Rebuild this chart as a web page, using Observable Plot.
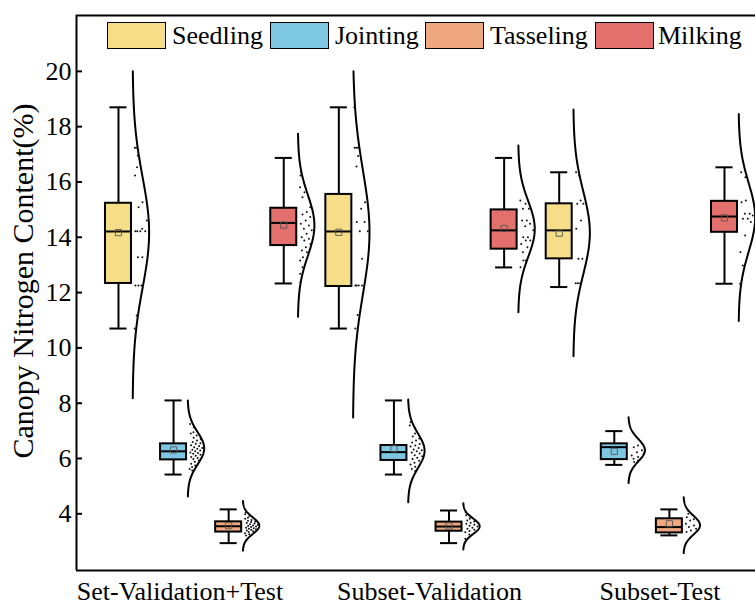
<!DOCTYPE html>
<html>
<head>
<meta charset="utf-8">
<script src="https://cdn.jsdelivr.net/npm/d3@7"></script>
<script src="https://cdn.jsdelivr.net/npm/@observablehq/plot@0.6"></script>
<style>
  body { margin: 0; background: #fff; }
  #wrap { position: relative; width: 755px; height: 607px; font-family: "Liberation Serif", "Times New Roman", serif; }
  #legend { position: absolute; left: 0; top: 0; width: 755px; height: 60px; pointer-events: none; }
  .sw { position: absolute; top: 22px; width: 57px; height: 25px; border: 1.5px solid #000; }
  .lt { position: absolute; top: 20px; font-size: 26px; line-height: 32px; color: #000; white-space: nowrap; }
</style>
</head>
<body>
<div id="wrap">
  <div id="chart"></div>
  <div id="legend"></div>
</div>
<script>
// ---------- data ----------
const groups = ["Set-Validation+Test", "Subset-Validation", "Subset-Test"];
const stages = ["Seedling", "Jointing", "Tasseling", "Milking"];
const stageColors = ["#F6DE88", "#7DC7E3", "#EEA77F", "#E3706C"];

// rows: groups, columns: stages
const whiskerLow  = [[10.70, 5.42, 2.94, 12.33], [10.70, 5.42, 2.94, 12.91], [12.20, 5.77, 3.22, 12.32]];
const q1          = [[12.33, 5.95, 3.34, 13.70], [12.22, 5.93, 3.37, 13.57], [13.22, 5.96, 3.31, 14.18]];
const median      = [[14.21, 6.26, 3.55, 14.52], [14.21, 6.23, 3.54, 14.25], [14.25, 6.41, 3.52, 14.75]];
const q3          = [[15.23, 6.53, 3.71, 15.05], [15.55, 6.47, 3.70, 14.99], [15.21, 6.53, 3.82, 15.30]];
const whiskerHigh = [[18.70, 8.10, 4.16, 16.87], [18.70, 8.10, 4.12, 16.87], [16.35, 6.99, 4.16, 16.53]];
const means       = [[14.17, 6.31, 3.57, 14.44], [14.18, 6.35, 3.56, 14.32], [14.15, 6.26, 3.64, 14.70]];

// normal distribution curve fitted to each series (mean, sd) and the range it is drawn over
const fitMean = [[14.17, 6.37, 3.57, 14.43], [14.18, 6.28, 3.55, 14.30], [14.16, 6.30, 3.59, 14.72]];
const fitSD   = [[2.00, 0.58, 0.30, 1.10], [2.23, 0.62, 0.28, 1.005], [1.49, 0.40, 0.34, 1.25]];
const curveLo = [[8.18, 4.63, 2.67, 11.13], [7.48, 4.42, 2.71, 11.29], [9.70, 5.11, 2.58, 10.97]];
const curveHi = [[20.0, 8.10, 4.46, 17.74], [20.0, 8.13, 4.38, 17.32], [18.62, 7.49, 4.60, 18.46]];

// individual data points
const pointValues = [
  [
    [18.70, 17.24, 17.24, 16.96, 16.53, 16.23, 15.27, 15.09, 14.61, 14.31, 14.22, 14.22, 14.22, 14.22, 13.28, 13.28, 12.26, 12.26, 12.26, 11.17, 10.70],
    [7.25, 7.13, 6.95, 6.90, 6.83, 6.75, 6.70, 6.65, 6.60, 6.55, 6.53, 6.48, 6.45, 6.41, 6.38, 6.35, 6.32, 6.29, 6.26, 6.22, 6.20, 6.17, 6.14, 6.10, 6.05, 6.02, 5.98, 5.93, 5.88, 5.81, 5.75, 5.69, 5.62, 5.57],
    [4.06, 3.98, 3.92, 3.86, 3.82, 3.78, 3.75, 3.72, 3.70, 3.67, 3.65, 3.62, 3.60, 3.58, 3.56, 3.54, 3.52, 3.50, 3.48, 3.46, 3.44, 3.42, 3.40, 3.37, 3.34, 3.30, 3.26, 3.22],
    [16.35, 16.23, 15.81, 15.63, 15.45, 15.09, 14.91, 14.82, 14.73, 14.61, 14.49, 14.43, 14.31, 14.25, 14.13, 14.00, 13.95, 13.88, 13.76, 13.64, 13.52, 13.46, 13.28, 13.16, 12.92, 12.68, 12.38]
  ],
  [
    [18.70, 17.24, 17.24, 17.24, 16.94, 16.56, 15.27, 15.03, 14.55, 14.55, 14.22, 14.22, 13.22, 12.26, 12.26, 12.26, 12.26, 11.19, 10.70],
    [7.31, 7.19, 6.90, 6.80, 6.72, 6.65, 6.58, 6.52, 6.47, 6.43, 6.38, 6.33, 6.30, 6.26, 6.22, 6.18, 6.12, 6.08, 6.03, 5.98, 5.92, 5.85, 5.78, 5.70, 5.62, 5.55],
    [4.06, 3.95, 3.88, 3.82, 3.76, 3.72, 3.68, 3.64, 3.60, 3.57, 3.54, 3.50, 3.46, 3.42, 3.38, 3.33, 3.25, 3.10, 2.95],
    [15.33, 15.21, 15.03, 15.03, 14.61, 14.61, 14.49, 14.40, 14.25, 14.00, 14.00, 13.88, 13.88, 13.76, 13.64, 13.46, 13.16, 13.16, 12.92]
  ],
  [
    [16.35, 16.23, 15.33, 15.21, 15.21, 14.61, 14.31, 13.22, 13.22, 12.34, 12.34, 12.34],
    [6.47, 6.41, 6.30, 6.23, 6.11, 6.05, 5.99, 5.93, 5.87],
    [4.12, 4.00, 3.88, 3.80, 3.76, 3.64, 3.58, 3.52, 3.46, 3.40, 3.34],
    [16.35, 16.17, 15.33, 15.27, 14.85, 14.85, 14.79, 14.67, 14.67, 14.55, 14.06, 13.46, 12.98, 12.32]
  ]
];

const yTicks = [4, 6, 8, 10, 12, 14, 16, 18, 20];
const xLabelPos = [1.116, 5.645, 9.83];
const yTitle = "Canopy Nitrogen Content(%)";

// ---------- layout constants ----------
const xDomain = [-0.762, 11.563];
const yDomain = [1.95, 22.02];
const boxHalf = 0.236, capHalf = 0.155, violinOffset = 0.256, violinWidth = 0.30;

// ---------- build tables ----------
const rows = [];
const curvePts = [];
const dotPts = [];
groups.forEach((g, gi) => stages.forEach((s, si) => {
  const i = gi * 4 + si;
  const key = g + "|" + s;
  rows.push({i, key, group: g, stage: s,
    lo: whiskerLow[gi][si], q1: q1[gi][si], med: median[gi][si], q3: q3[gi][si],
    hi: whiskerHigh[gi][si], mean: means[gi][si]});
  const m = fitMean[gi][si], sd = fitSD[gi][si];
  const dens = v => Math.exp(-0.5 * ((v - m) / sd) ** 2);
  const lo = curveLo[gi][si], hi = curveHi[gi][si];
  const n = 120;
  for (let k = 0; k <= n; k++) {
    const v = lo + (hi - lo) * k / n;
    curvePts.push({key, v, x: i + violinOffset + dens(v) * violinWidth});
  }
  pointValues[gi][si].forEach((v, j) => {
    const frac = 0.08 + 0.84 * ((j * 0.6180339887 + si * 0.29 + gi * 0.17) % 1);
    dotPts.push({key, v, x: i + violinOffset + 0.02 + frac * (dens(v) * violinWidth - 0.02)});
  });
}));

const chart = Plot.plot({
  width: 755,
  height: 607,
  marginLeft: 76,
  marginRight: 0,
  marginTop: 15,
  marginBottom: 37,
  style: {fontFamily: "'Liberation Serif', 'Times New Roman', serif", background: "white", color: "black"},
  x: {domain: xDomain},
  y: {domain: yDomain},
  color: {domain: stages, range: stageColors},
  marks: [
    Plot.ruleX(rows, {x: "i", y1: "lo", y2: "hi", stroke: "black", strokeWidth: 2}),
    Plot.ruleY(rows, {y: "hi", x1: d => d.i - capHalf, x2: d => d.i + capHalf, stroke: "black", strokeWidth: 2}),
    Plot.ruleY(rows, {y: "lo", x1: d => d.i - capHalf, x2: d => d.i + capHalf, stroke: "black", strokeWidth: 2}),
    Plot.rect(rows, {x1: d => d.i - boxHalf, x2: d => d.i + boxHalf, y1: "q1", y2: "q3", fill: "stage", stroke: "black", strokeWidth: 2}),
    Plot.ruleY(rows, {y: "med", x1: d => d.i - boxHalf, x2: d => d.i + boxHalf, stroke: "black", strokeWidth: 2}),
    Plot.dot(rows, {x: "i", y: "mean", symbol: "square", r: 3.5, stroke: "#555", strokeWidth: 0.9, fill: "none"}),
    Plot.line(curvePts, {x: "x", y: "v", z: "key", stroke: "black", strokeWidth: 2}),
    Plot.dot(dotPts, {x: "x", y: "v", r: 1, fill: "#111", stroke: null}),
    Plot.ruleX([xDomain[0]], {stroke: "black", strokeWidth: 2}),
    Plot.ruleY([yDomain[0]], {stroke: "black", strokeWidth: 2}),
    Plot.ruleY([yDomain[1]], {stroke: "black", strokeWidth: 2}),
    Plot.axisY(yTicks, {tickSize: -6, tickPadding: 11, fontSize: 26, strokeWidth: 2, label: null}),
    Plot.axisX(xLabelPos, {tickSize: 0, tickPadding: 11, fontSize: 26, label: null,
      tickFormat: d => groups[xLabelPos.indexOf(d)]}),
    Plot.text([yTitle], {frameAnchor: "left", textAnchor: "middle", rotate: -90, dx: -53, dy: -12, fontSize: 30, fill: "black"})
  ]
});
document.getElementById("chart").appendChild(chart);

// ---------- legend ----------
const legend = document.getElementById("legend");
const swLeft = [107, 270, 425, 595];
const txtLeft = [172, 335, 490, 658];
stages.forEach((s, k) => {
  const sw = document.createElement("div");
  sw.className = "sw";
  sw.style.left = swLeft[k] + "px";
  sw.style.background = stageColors[k];
  legend.appendChild(sw);
  const t = document.createElement("div");
  t.className = "lt";
  t.style.left = txtLeft[k] + "px";
  t.textContent = s;
  legend.appendChild(t);
});
</script>
</body>
</html>
